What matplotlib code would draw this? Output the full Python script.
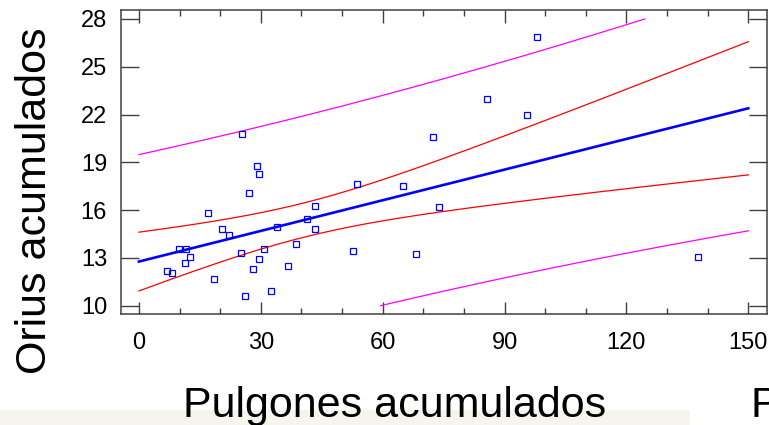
import numpy as np
import matplotlib.pyplot as plt
from matplotlib.patches import Rectangle
from matplotlib.ticker import MultipleLocator

# Datos: pulgones y orius acumulados
pulgones = [25.4, 98.0, 85.6, 95.5, 72.3, 29.1, 29.6, 27.2, 53.7, 65.0, 73.9, 43.3,
            16.9, 20.4, 22.3, 43.3, 41.5, 34.0, 38.6, 52.7, 68.3, 137.5, 9.85, 11.5,
            11.3, 12.5, 25.1, 30.9, 29.6, 6.8, 8.1, 18.6, 28.1, 36.7, 32.5, 26.0]
orius = [20.76, 26.85, 22.96, 21.95, 20.61, 18.77, 18.25, 17.06, 17.64, 17.50, 16.2, 16.26,
         15.8, 14.81, 14.46, 14.81, 15.46, 14.96, 13.85, 13.43, 13.26, 13.04, 13.54, 13.56,
         12.68, 13.04, 13.29, 13.56, 12.91, 12.2, 12.03, 11.66, 12.3, 12.49, 10.94, 10.59]

xticks = [0, 30, 60, 90, 120, 150]
yticks = [10, 13, 16, 19, 22, 25, 28]

# Regresion lineal simple con limites de confianza y prediccion al 95%
x = np.array(pulgones)
y = np.array(orius)
n = len(x)
b1, b0 = np.polyfit(x, y, 1)
resid = y - (b0 + b1 * x)
s = np.sqrt(np.sum(resid ** 2) / (n - 2))
sxx = np.sum((x - x.mean()) ** 2)
t95 = 2.032  # t(0.975, 34 gl)

xg = np.linspace(0, 150, 301)
yg = b0 + b1 * xg
conf = t95 * s * np.sqrt(1 / n + (xg - x.mean()) ** 2 / sxx)
pred = t95 * s * np.sqrt(1 + 1 / n + (xg - x.mean()) ** 2 / sxx)


def recorta(v):
    return np.where((v >= 10) & (v <= 28), v, np.nan)


fig = plt.figure(figsize=(7.69, 4.25), dpi=100)
plt.rcParams['font.family'] = ['Liberation Sans', 'DejaVu Sans']

fig.patches.append(Rectangle((0, 0), 690 / 769, 15 / 425, transform=fig.transFigure,
                             facecolor='#f5f5ee', edgecolor='none', zorder=0))

ax = fig.add_axes([121 / 769, 111 / 425, 646 / 769, 304 / 425])
ax.plot(xg, recorta(yg + pred), color='#ff00ff', linewidth=0.9)
ax.plot(xg, recorta(yg - pred), color='#ff00ff', linewidth=0.9)
ax.plot(xg, recorta(yg + conf), color='#ff0000', linewidth=0.9)
ax.plot(xg, recorta(yg - conf), color='#ff0000', linewidth=0.9)
ax.plot(xg, yg, color='#0000ff', linewidth=1.9)
ax.plot(x, y, linestyle='none', marker='s', markersize=4.4, markerfacecolor='none',
        markeredgecolor='#0000ff', markeredgewidth=0.9)

ax.set_xlim(-4.4, 154.6)
ax.set_ylim(9.48, 28.56)
ax.set_xticks(xticks)
ax.set_yticks(yticks)
ax.xaxis.set_minor_locator(MultipleLocator(10))
ax.tick_params(axis='both', which='major', direction='in', color='#404040',
               labelsize=17, labelcolor='black', top=True, right=True)
ax.tick_params(axis='x', which='major', length=9, width=1, pad=13)
ax.tick_params(axis='y', which='major', length=13, width=1, pad=10)
ax.tick_params(axis='x', which='minor', direction='in', length=4.5, width=1,
               color='#404040', top=True)
for sp in ax.spines.values():
    sp.set_color('#404040')
    sp.set_linewidth(1.1)

fig.text(35 / 769, 0.527, 'Orius acumulados', rotation=90, fontsize=31,
         ha='center', va='center')
fig.text(395 / 769, 8 / 425, 'Pulgones acumulados', fontsize=31,
         ha='center', va='baseline')
fig.text(751 / 769, 8 / 425, 'P', fontsize=31, ha='left', va='baseline')

fig.savefig('out.png', dpi=100)
